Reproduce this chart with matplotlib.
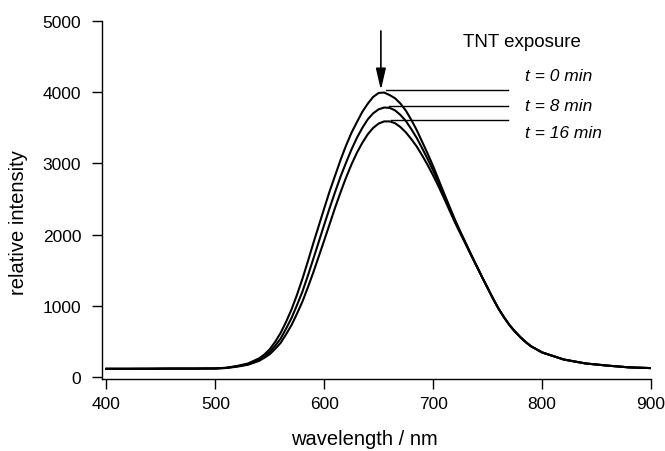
import matplotlib
matplotlib.use("Agg")
import matplotlib.pyplot as plt

# emission spectra (wavelength in nm, intensity in counts)
wavelength = [400, 420, 440, 460, 480, 500, 510, 520, 530,
              540, 545, 550, 555, 560, 565, 570, 575, 580, 585, 590, 595,
              600, 605, 610, 615, 620, 625, 630, 635, 640, 645, 650, 655,
              660, 665, 670, 675, 680, 685, 690, 695, 700, 705, 710, 715,
              720, 725, 730, 735, 740, 745, 750, 755, 760, 765, 770, 775,
              780, 785, 790, 800, 820, 840, 860, 880, 900]

t0 = [115, 115, 116, 118, 118, 120, 130, 155, 190,
      260, 315, 390, 495, 620, 775, 950, 1155, 1380, 1625, 1880, 2125,
      2370, 2610, 2830, 3050, 3250, 3430, 3580, 3725, 3840, 3935, 3990, 3995,
      3960, 3915, 3840, 3740, 3610, 3465, 3300, 3135, 2960, 2770, 2580, 2395,
      2210, 2040, 1880, 1715, 1560, 1400, 1250, 1100, 960, 840, 730, 640,
      560, 490, 430, 345, 245, 190, 160, 135, 125]
t8 = [115, 115, 116, 118, 118, 120, 128, 150, 180,
      240, 290, 350, 440, 540, 680, 830, 1010, 1200, 1425, 1660, 1900,
      2140, 2375, 2600, 2815, 3010, 3195, 3360, 3500, 3620, 3705, 3760, 3785,
      3780, 3745, 3680, 3595, 3480, 3355, 3210, 3060, 2900, 2730, 2550, 2370,
      2190, 2030, 1870, 1710, 1555, 1400, 1250, 1100, 960, 840, 730, 640,
      560, 490, 430, 345, 245, 190, 160, 135, 125]
t16 = [115, 115, 116, 118, 118, 120, 126, 145, 172,
       225, 270, 320, 395, 480, 600, 730, 890, 1060, 1260, 1470, 1695,
       1920, 2150, 2380, 2595, 2800, 2985, 3150, 3290, 3410, 3500, 3560, 3590,
       3590, 3565, 3510, 3435, 3340, 3235, 3110, 2975, 2830, 2675, 2510, 2340,
       2170, 2015, 1860, 1705, 1550, 1400, 1250, 1100, 960, 840, 730, 640,
       560, 490, 430, 345, 245, 190, 160, 135, 125]

labels = ["t = 0 min", "t = 8 min", "t = 16 min"]
marker_y = [4030, 3805, 3610]
marker_x0 = [657, 659, 661]
label_y = [4228, 3820, 3441]

plt.rcParams['font.family'] = ['Liberation Sans', 'DejaVu Sans']

fig = plt.figure(figsize=(6.65, 4.52), dpi=100)
ax = fig.add_axes([0.1534, 0.159, 0.979 - 0.1534, 0.9513 - 0.159])

for y in (t0, t8, t16):
    ax.plot(wavelength, y, color='black', lw=1.5)

for x0, y, lab, ly in zip(marker_x0, marker_y, labels, label_y):
    ax.plot([x0, 769], [y, y], color='black', lw=1.0)
    ax.text(784, ly, lab, fontsize=12.5, style='italic', va='center', ha='left')

ax.text(727, 4719, "TNT exposure", fontsize=13.5, va='center', ha='left')

ax.annotate("", xy=(652, 4030), xytext=(652, 4860),
            arrowprops=dict(arrowstyle='-|>,head_length=1.3,head_width=0.3',
                            color='black', lw=1.2, mutation_scale=10,
                            shrinkA=0, shrinkB=0))

ax.set_xlim(396, 900)
ax.set_ylim(-30, 5000)
ax.set_xticks([400, 500, 600, 700, 800, 900])
ax.set_yticks([0, 1000, 2000, 3000, 4000, 5000])

for side in ('top', 'right'):
    ax.spines[side].set_visible(False)
for side in ('left', 'bottom'):
    ax.spines[side].set_linewidth(1.0)

ax.tick_params(axis='both', direction='out', length=7, width=1.0, labelsize=12.5)
ax.tick_params(axis='y', pad=8)
ax.tick_params(axis='x', pad=5)

fig.text(0.548, 1 - 440 / 452, "wavelength / nm", fontsize=14.5, ha='center', va='center')
fig.text(19 / 665, 1 - 223 / 452, "relative intensity", fontsize=14.5, ha='center',
         va='center', rotation=90)

fig.savefig("out.png", dpi=100)
